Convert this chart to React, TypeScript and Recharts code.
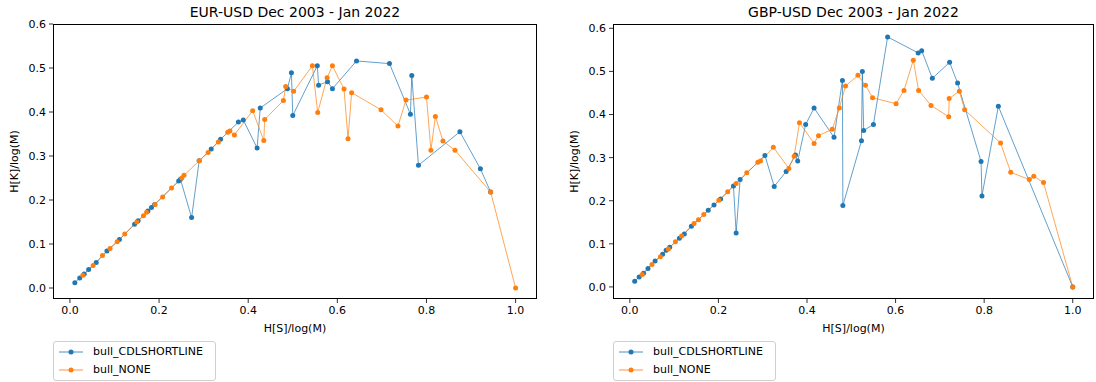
import React from 'react';
import { LineChart, Line, XAxis, YAxis } from 'recharts';

// EUR-USD, bull_CDLSHORTLINE
const eurShortX = [0.011, 0.022, 0.032, 0.042, 0.059, 0.083, 0.111, 0.145, 0.153, 0.175, 0.183, 0.19, 0.244, 0.248, 0.273, 0.29, 0.317, 0.338, 0.378, 0.389, 0.42, 0.427, 0.488, 0.497, 0.5, 0.555, 0.558, 0.578, 0.589, 0.643, 0.717, 0.764, 0.767, 0.782, 0.875, 0.921, 0.944];
const eurShortY = [0.012, 0.023, 0.032, 0.042, 0.058, 0.084, 0.11, 0.145, 0.153, 0.175, 0.183, 0.19, 0.243, 0.247, 0.16, 0.289, 0.316, 0.338, 0.377, 0.382, 0.318, 0.409, 0.453, 0.489, 0.392, 0.505, 0.461, 0.469, 0.453, 0.516, 0.51, 0.395, 0.483, 0.279, 0.355, 0.271, 0.218];

// EUR-USD, bull_NONE
const eurNoneX = [0.029, 0.052, 0.073, 0.09, 0.106, 0.123, 0.15, 0.165, 0.172, 0.191, 0.208, 0.228, 0.251, 0.256, 0.29, 0.31, 0.333, 0.354, 0.359, 0.369, 0.41, 0.435, 0.437, 0.479, 0.484, 0.502, 0.544, 0.556, 0.577, 0.589, 0.615, 0.624, 0.632, 0.698, 0.736, 0.754, 0.8, 0.81, 0.82, 0.837, 0.864, 0.944, 1.0];
const eurNoneY = [0.029, 0.051, 0.074, 0.09, 0.105, 0.123, 0.15, 0.164, 0.172, 0.19, 0.207, 0.227, 0.25, 0.256, 0.289, 0.308, 0.332, 0.354, 0.357, 0.348, 0.403, 0.335, 0.383, 0.426, 0.458, 0.447, 0.505, 0.399, 0.478, 0.505, 0.452, 0.339, 0.444, 0.405, 0.368, 0.427, 0.434, 0.313, 0.39, 0.334, 0.313, 0.218, 0.0];

// GBP-USD, bull_CDLSHORTLINE
const gbpShortX = [0.011, 0.021, 0.031, 0.041, 0.057, 0.074, 0.082, 0.09, 0.112, 0.123, 0.139, 0.177, 0.19, 0.205, 0.234, 0.24, 0.249, 0.305, 0.326, 0.353, 0.374, 0.379, 0.397, 0.416, 0.461, 0.48, 0.481, 0.523, 0.525, 0.528, 0.55, 0.582, 0.651, 0.659, 0.683, 0.722, 0.74, 0.793, 0.795, 0.832, 1.0];
const gbpShortY = [0.013, 0.023, 0.032, 0.043, 0.06, 0.076, 0.085, 0.092, 0.113, 0.123, 0.141, 0.178, 0.19, 0.204, 0.234, 0.125, 0.249, 0.305, 0.233, 0.268, 0.306, 0.292, 0.377, 0.415, 0.347, 0.479, 0.189, 0.339, 0.5, 0.363, 0.377, 0.58, 0.543, 0.548, 0.484, 0.521, 0.473, 0.291, 0.211, 0.419, 0.0];

// GBP-USD, bull_NONE
const gbpNoneX = [0.028, 0.05, 0.069, 0.087, 0.103, 0.117, 0.145, 0.155, 0.167, 0.201, 0.221, 0.24, 0.264, 0.289, 0.295, 0.324, 0.359, 0.371, 0.383, 0.416, 0.426, 0.457, 0.473, 0.487, 0.515, 0.532, 0.548, 0.601, 0.619, 0.64, 0.652, 0.68, 0.72, 0.721, 0.744, 0.756, 0.837, 0.86, 0.902, 0.912, 0.934, 1.0];
const gbpNoneY = [0.029, 0.052, 0.07, 0.088, 0.105, 0.118, 0.147, 0.156, 0.168, 0.201, 0.221, 0.24, 0.265, 0.289, 0.292, 0.324, 0.275, 0.303, 0.381, 0.333, 0.351, 0.366, 0.415, 0.466, 0.491, 0.468, 0.439, 0.425, 0.456, 0.526, 0.456, 0.421, 0.395, 0.437, 0.454, 0.411, 0.334, 0.266, 0.249, 0.257, 0.242, 0.0];

const xTicks = [0, 0.2, 0.4, 0.6, 0.8, 1.0];
const yTicks = [0, 0.1, 0.2, 0.3, 0.4, 0.5, 0.6];
const seriesNames = ['bull_CDLSHORTLINE', 'bull_NONE'];

const BLUE = '#1f77b4';
const ORANGE = '#ff7f0e';
const FONT = '"DejaVu Sans", sans-serif';

const toPoints = (xs: number[], ys: number[]) => xs.map((x, i) => ({ x, y: ys[i] }));

interface PanelProps {
  title: string;
  short: { x: number; y: number }[];
  none: { x: number; y: number }[];
  left: number;
  plotLeft: number;
  plotRight: number;
  yDomain: [number, number];
}

const W = 548;
const H = 382;
const PLOT_TOP = 24;
const PLOT_BOTTOM = 299;
const Y_AXIS_W = 45;
const X_AXIS_H = 34;

function LegendBox({ left }: { left: number }) {
  const colors = [BLUE, ORANGE];
  return (
    <div
      style={{
        position: 'absolute',
        left,
        top: 341,
        width: 163,
        height: 40,
        boxSizing: 'border-box',
        border: '1px solid #d0d0d0',
        borderRadius: 3,
        background: '#fff',
      }}
    >
      {seriesNames.map((name, i) => (
        <React.Fragment key={name}>
          <svg width={34} height={14} style={{ position: 'absolute', left: 0, top: 3 + i * 18 }}>
            <line x1={5} x2={29} y1={7} y2={7} stroke={colors[i]} strokeWidth={0.8} />
            <circle cx={17} cy={7} r={2.5} fill={colors[i]} />
          </svg>
          <span
            style={{
              position: 'absolute',
              left: 39,
              top: 2 + i * 18,
              lineHeight: '16px',
              fontSize: 11,
              fontFamily: FONT,
              color: '#000',
              whiteSpace: 'nowrap',
            }}
          >
            {name}
          </span>
        </React.Fragment>
      ))}
    </div>
  );
}

function Panel({ title, short, none, left, plotLeft, plotRight, yDomain }: PanelProps) {
  const tickStyle = { fontSize: 11, fill: '#000', fontFamily: FONT };
  return (
    <div style={{ position: 'absolute', left, top: 0, width: W, height: H }}>
      <div
        style={{
          position: 'absolute',
          left: plotLeft,
          width: plotRight - plotLeft,
          top: 4,
          textAlign: 'center',
          fontSize: 14,
          lineHeight: '17px',
          fontFamily: FONT,
          color: '#000',
        }}
      >
        {title}
      </div>
      <LineChart
        width={W}
        height={H}
        margin={{
          top: PLOT_TOP,
          bottom: H - PLOT_BOTTOM - X_AXIS_H,
          left: plotLeft - Y_AXIS_W,
          right: W - plotRight,
        }}
      >
        <XAxis
          type="number"
          dataKey="x"
          domain={[-0.038, 1.048]}
          ticks={xTicks}
          allowDataOverflow
          height={X_AXIS_H}
          axisLine={false}
          tickSize={4}
          tickMargin={3}
          tickLine={{ stroke: '#000', strokeWidth: 0.8 }}
          tick={tickStyle}
          tickFormatter={(v: number) => v.toFixed(1)}
          label={{ value: 'H[S]/log(M)', position: 'insideBottom', offset: 1, style: tickStyle }}
        />
        <YAxis
          type="number"
          dataKey="y"
          domain={yDomain}
          ticks={yTicks}
          allowDataOverflow
          width={Y_AXIS_W}
          axisLine={false}
          tickSize={4}
          tickMargin={3}
          tickLine={{ stroke: '#000', strokeWidth: 0.8 }}
          tick={tickStyle}
          tickFormatter={(v: number) => v.toFixed(1)}
          label={{ value: 'H[K]/log(M)', angle: -90, position: 'insideLeft', offset: 6, style: { ...tickStyle, textAnchor: 'middle' } }}
        />
        <Line
          data={short}
          dataKey="y"
          name={seriesNames[0]}
          type="linear"
          stroke={BLUE}
          strokeWidth={0.7}
          dot={{ r: 2.5, fill: BLUE, stroke: BLUE, strokeWidth: 0 }}
          activeDot={false}
          isAnimationActive={false}
        />
        <Line
          data={none}
          dataKey="y"
          name={seriesNames[1]}
          type="linear"
          stroke={ORANGE}
          strokeWidth={0.7}
          dot={{ r: 2.5, fill: ORANGE, stroke: ORANGE, strokeWidth: 0 }}
          activeDot={false}
          isAnimationActive={false}
        />
      </LineChart>
      <div
        style={{
          position: 'absolute',
          left: plotLeft,
          top: PLOT_TOP,
          width: plotRight - plotLeft,
          height: PLOT_BOTTOM - PLOT_TOP,
          boxSizing: 'border-box',
          border: '1px solid #000',
          pointerEvents: 'none',
        }}
      />
      <LegendBox left={plotLeft} />
    </div>
  );
}

export default function App() {
  return (
    <div style={{ position: 'absolute', left: 0, top: 0, width: 1096, height: 382, background: '#fff', overflow: 'hidden' }}>
      <Panel
        title="EUR-USD Dec 2003 - Jan 2022"
        short={toPoints(eurShortX, eurShortY)}
        none={toPoints(eurNoneX, eurNoneY)}
        left={0}
        plotLeft={53}
        plotRight={537}
        yDomain={[-0.025, 0.6]}
      />
      <Panel
        title="GBP-USD Dec 2003 - Jan 2022"
        short={toPoints(gbpShortX, gbpShortY)}
        none={toPoints(gbpNoneX, gbpNoneY)}
        left={548}
        plotLeft={65}
        plotRight={546}
        yDomain={[-0.028, 0.61]}
      />
    </div>
  );
}
